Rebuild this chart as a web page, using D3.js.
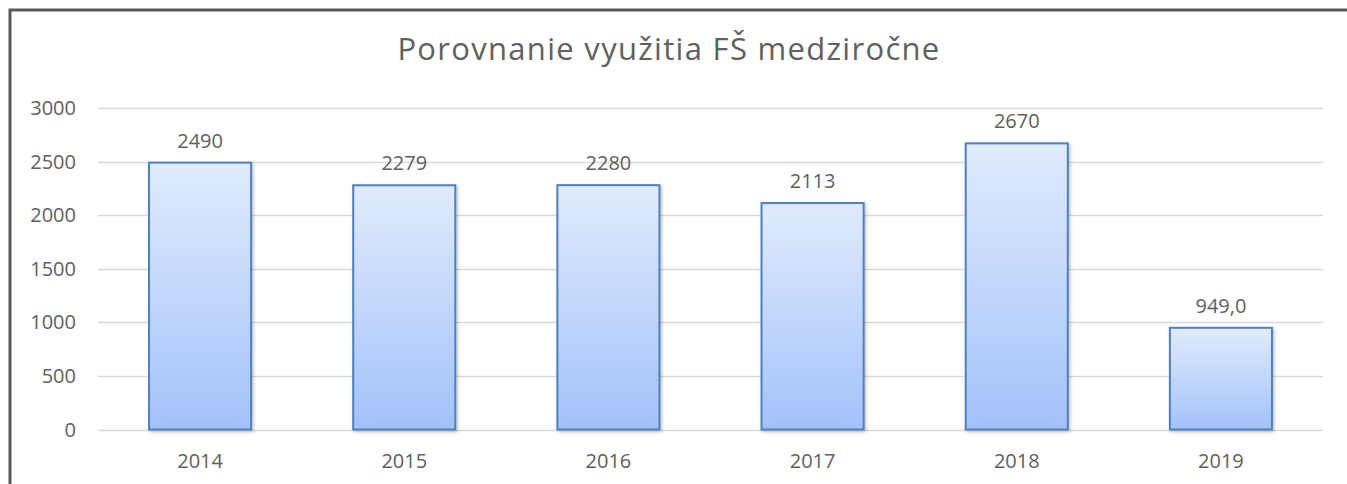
<!DOCTYPE html>
<html>
<head>
<meta charset="utf-8">
<script src="https://cdn.jsdelivr.net/npm/d3@7"></script>
<style>
  body { margin: 0; background: #fff; }
  svg { display: block; font-family: "Open Sans", "Noto Sans", sans-serif; }
</style>
</head>
<body>
<div id="chart"></div>
<script>
const years = ["2014", "2015", "2016", "2017", "2018", "2019"];
const values = [2490, 2279, 2280, 2113, 2670, 949.0];
const valueLabels = ["2490", "2279", "2280", "2113", "2670", "949,0"];
const yTicks = [0, 500, 1000, 1500, 2000, 2500, 3000];

const W = 1347, H = 484;
const margin = { top: 108, right: 24, bottom: 54.5, left: 98 };
const width = W - margin.left - margin.right;
const height = H - margin.top - margin.bottom;
const textColor = "#606060";

const svg = d3.select("#chart").append("svg")
    .attr("width", W)
    .attr("height", H);

// frame (top and left edges visible)
svg.append("path")
  .attr("d", `M10,${H} L10,10 L${W},10`)
  .attr("fill", "none")
  .attr("stroke", "#595959")
  .attr("stroke-width", 3);

const defs = svg.append("defs");
const grad = defs.append("linearGradient")
    .attr("id", "barGrad")
    .attr("x1", 0).attr("y1", 0).attr("x2", 0).attr("y2", 1);
grad.append("stop").attr("offset", "0%").attr("stop-color", "#e0ebfc");
grad.append("stop").attr("offset", "100%").attr("stop-color", "#a3c2fa");

const shadow = defs.append("filter").attr("id", "shadow")
    .attr("x", "-10%").attr("y", "-10%").attr("width", "130%").attr("height", "130%");
shadow.append("feDropShadow")
    .attr("dx", 1.5).attr("dy", 1.5).attr("stdDeviation", 1.5)
    .attr("flood-color", "#000").attr("flood-opacity", 0.25);

// title
svg.append("text")
  .attr("x", 669)
  .attr("y", 60)
  .attr("text-anchor", "middle")
  .attr("fill", textColor)
  .style("font-size", "31px")
  .style("letter-spacing", "1.3px")
  .text("Porovnanie využitia FŠ medziročne");

const g = svg.append("g")
    .attr("transform", `translate(${margin.left},${margin.top})`);

const x = d3.scaleBand()
    .domain(years)
    .range([0, width])
    .paddingInner(0.5)
    .paddingOuter(0.25);

const y = d3.scaleLinear()
    .domain([0, 3000])
    .range([height, 0]);

// gridlines
g.append("g")
  .selectAll("line")
  .data(yTicks)
  .join("line")
    .attr("x1", 0)
    .attr("x2", width)
    .attr("y1", d => Math.round(y(d)) + 0.5)
    .attr("y2", d => Math.round(y(d)) + 0.5)
    .attr("stroke", "#d9d9d9")
    .attr("stroke-width", 1.5);

// y axis labels
g.append("g")
  .selectAll("text")
  .data(yTicks)
  .join("text")
    .attr("x", -22)
    .attr("y", d => y(d))
    .attr("dy", "0.35em")
    .attr("text-anchor", "end")
    .attr("fill", textColor)
    .style("font-size", "20px")
    .text(d => d);

// bars
g.append("g")
  .selectAll("rect")
  .data(years)
  .join("rect")
    .attr("x", d => x(d))
    .attr("y", (d, i) => y(values[i]))
    .attr("width", x.bandwidth())
    .attr("height", (d, i) => height - y(values[i]))
    .attr("fill", "url(#barGrad)")
    .attr("stroke", "#4f81bd")
    .attr("stroke-width", 2)
    .attr("filter", "url(#shadow)");

// value labels
g.append("g")
  .selectAll("text")
  .data(years)
  .join("text")
    .attr("x", d => x(d) + x.bandwidth() / 2)
    .attr("y", (d, i) => y(values[i]) - 22)
    .attr("dy", "0.35em")
    .attr("text-anchor", "middle")
    .attr("fill", textColor)
    .style("font-size", "20px")
    .text((d, i) => valueLabels[i]);

// x axis labels
g.append("g")
  .selectAll("text")
  .data(years)
  .join("text")
    .attr("x", d => x(d) + x.bandwidth() / 2)
    .attr("y", height + 31)
    .attr("dy", "0.35em")
    .attr("text-anchor", "middle")
    .attr("fill", textColor)
    .style("font-size", "20px")
    .text(d => d);
</script>
</body>
</html>
